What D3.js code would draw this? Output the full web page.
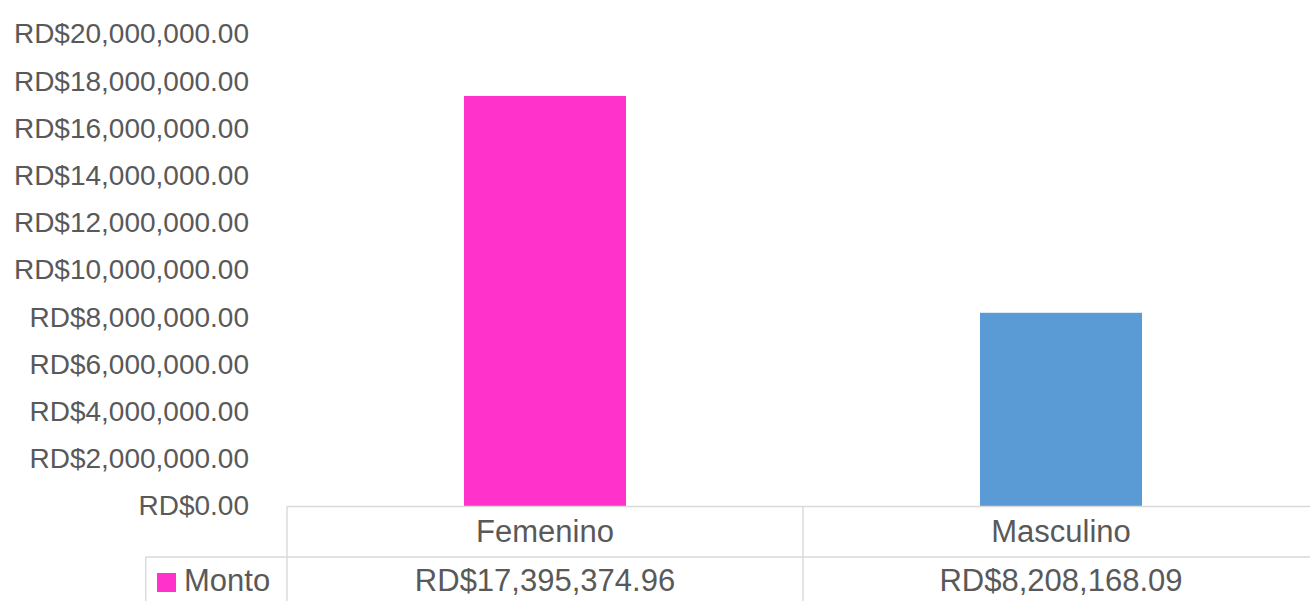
<!DOCTYPE html>
<html>
<head>
<meta charset="utf-8">
<script src="https://cdn.jsdelivr.net/npm/d3@7"></script>
<style>
  html, body { margin: 0; padding: 0; background: #fff; overflow: hidden; }
  svg text { font-family: "Liberation Sans", Arial, sans-serif; fill: #595959; }
</style>
</head>
<body>
<div class="chart"></div>
<script>
const categories = ["Femenino", "Masculino"];
const montos = [17395374.96, 8208168.09];
const barColors = ["#FF33CC", "#5B9BD5"];
const yTicks = [0, 2e6, 4e6, 6e6, 8e6, 10e6, 12e6, 14e6, 16e6, 18e6, 20e6];
const seriesName = "Monto";

const width = 1310;
const height = 601;
const axisFont = 28;
const tableFont = 31;
const gridColor = "#D9D9D9";

// plot area (right edge runs past the window, like the original crop)
const plot = { left: 287, right: 1319, top: 34.5, bottom: 506.5 };
const rowH = 50.5;

const money = (v) => "RD$" + d3.format(",.2f")(v);

const svg = d3.select(".chart").append("svg")
  .attr("width", width)
  .attr("height", height);

const y = d3.scaleLinear()
  .domain([0, 20e6])
  .range([plot.bottom, plot.top]);

const x = d3.scaleBand()
  .domain(categories)
  .range([plot.left, plot.right])
  .paddingInner(0.686)
  .paddingOuter(0.343);

const step = x.step();

// y axis labels
const yAxis = d3.axisLeft(y)
  .tickValues(yTicks)
  .tickFormat(money)
  .tickSize(0)
  .tickPadding(0);

const gy = svg.append("g")
  .attr("transform", "translate(249,0)")
  .call(yAxis);
gy.select(".domain").remove();
gy.selectAll("text")
  .attr("dy", "0.3em")
  .style("font-size", axisFont + "px")
  .attr("fill", "#595959")
  .style("font-family", '"Liberation Sans", Arial, sans-serif');

// bars
svg.selectAll("rect.bar")
  .data(categories)
  .enter()
  .append("rect")
  .attr("class", "bar")
  .attr("x", (d) => x(d))
  .attr("width", x.bandwidth())
  .attr("y", (d, i) => y(montos[i]))
  .attr("height", (d, i) => y(0) - y(montos[i]))
  .attr("fill", (d, i) => barColors[i]);

// data table
const table = svg.append("g")
  .attr("stroke", gridColor)
  .attr("stroke-width", 1.4)
  .attr("fill", "none");

const row1 = plot.bottom;
const row2 = plot.bottom + rowH;
const tableLeft = 145.7;

table.append("line")
  .attr("x1", plot.left).attr("x2", plot.right)
  .attr("y1", row1).attr("y2", row1);
table.append("line")
  .attr("x1", tableLeft).attr("x2", plot.right)
  .attr("y1", row2).attr("y2", row2);
table.append("line")
  .attr("x1", tableLeft).attr("x2", tableLeft)
  .attr("y1", row2).attr("y2", height);

const dividers = [plot.left].concat(categories.map((d) => x(d) - step * x.paddingInner() / 2 + step));
table.selectAll("line.div")
  .data(dividers)
  .enter()
  .append("line")
  .attr("class", "div")
  .attr("x1", (d) => d).attr("x2", (d) => d)
  .attr("y1", row1).attr("y2", height);

// category labels
svg.selectAll("text.cat")
  .data(categories)
  .enter()
  .append("text")
  .attr("class", "cat")
  .attr("x", (d) => x(d) + x.bandwidth() / 2)
  .attr("y", row1 + 35)
  .attr("text-anchor", "middle")
  .style("font-size", tableFont + "px")
  .text((d) => d);

// values row
svg.selectAll("text.val")
  .data(categories)
  .enter()
  .append("text")
  .attr("class", "val")
  .attr("x", (d) => x(d) + x.bandwidth() / 2)
  .attr("y", row2 + 34)
  .attr("text-anchor", "middle")
  .style("font-size", tableFont + "px")
  .text((d, i) => money(montos[i]));

// legend key + series name
svg.append("rect")
  .attr("x", 157)
  .attr("y", 573)
  .attr("width", 19)
  .attr("height", 19)
  .attr("fill", barColors[0]);

svg.append("text")
  .attr("x", 184)
  .attr("y", row2 + 34)
  .style("font-size", tableFont + "px")
  .text(seriesName);
</script>
</body>
</html>
